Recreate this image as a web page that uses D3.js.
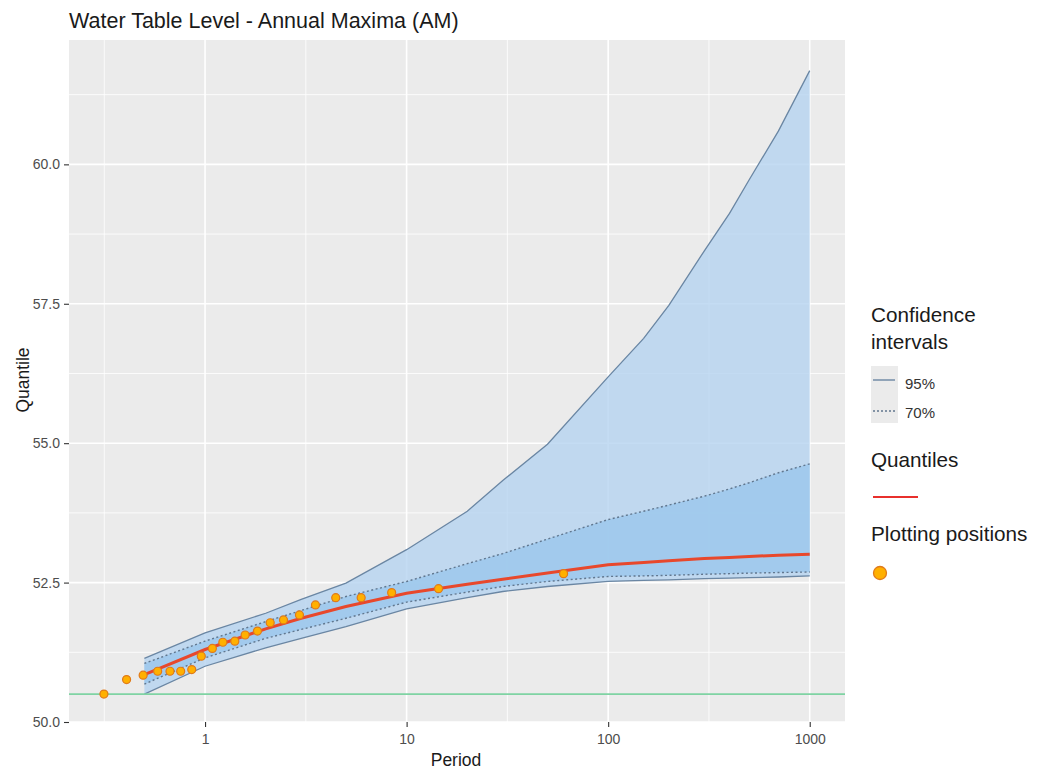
<!DOCTYPE html>
<html>
<head>
<meta charset="utf-8">
<script src="https://cdn.jsdelivr.net/npm/d3@7"></script>
<style>
    body { margin: 0; background: #fff; }
    text { font-family: "Liberation Sans", Arial, sans-serif; }
</style>
</head>
<body>
<div id="chart"></div>
<script>
// return periods of the fitted curve
var periods = [0.5, 1, 2, 3, 5, 10, 20, 30, 50, 100, 150, 200, 300, 400, 500, 700, 1000];
var upper95 = [51.14, 51.6, 51.95, 52.2, 52.49, 53.09, 53.78, 54.33, 54.98, 56.19, 56.88, 57.47, 58.45, 59.12, 59.72, 60.6, 61.68];
var upper70 = [51.05, 51.45, 51.8, 52.0, 52.25, 52.52, 52.84, 53.02, 53.28, 53.63, 53.78, 53.89, 54.05, 54.18, 54.29, 54.47, 54.63];
var quantiles = [50.85, 51.3, 51.67, 51.86, 52.07, 52.31, 52.47, 52.56, 52.67, 52.82, 52.86, 52.89, 52.93, 52.95, 52.97, 52.99, 53.01];
var lower70 = [50.68, 51.15, 51.5, 51.66, 51.86, 52.15, 52.33, 52.43, 52.52, 52.61, 52.62, 52.63, 52.65, 52.66, 52.67, 52.68, 52.69];
var lower95 = [50.5, 51.0, 51.33, 51.5, 51.71, 52.03, 52.23, 52.34, 52.43, 52.52, 52.54, 52.55, 52.57, 52.58, 52.59, 52.6, 52.62];

// plotting positions
var ppPeriod = [0.315, 0.408, 0.493, 0.582, 0.67, 0.757, 0.859, 0.958, 1.087, 1.225, 1.405, 1.581, 1.82, 2.105, 2.45, 2.94, 3.53, 4.45, 5.95, 8.43, 14.4, 60.1];
var ppValue = [50.5, 50.76, 50.84, 50.91, 50.91, 50.91, 50.94, 51.18, 51.32, 51.43, 51.45, 51.56, 51.63, 51.78, 51.83, 51.92, 52.1, 52.23, 52.23, 52.32, 52.39, 52.66];

var threshold = 50.5;

var xTicks = [1, 10, 100, 1000];
var xMinor = [Math.pow(10, -0.5), Math.pow(10, 0.5), Math.pow(10, 1.5), Math.pow(10, 2.5)];
var yTicks = [50, 52.5, 55, 57.5, 60];
var yMinor = [51.25, 53.75, 56.25, 58.75, 61.25];

var width = 1046, height = 769;
var panel = { left: 69, right: 845, top: 40, bottom: 722 };

var svg = d3.select("#chart").append("svg")
    .attr("width", width)
    .attr("height", height);

var x = d3.scaleLog()
    .domain([Math.pow(10, -0.675), Math.pow(10, 3.175)])
    .range([panel.left, panel.right]);
var y = d3.scaleLinear()
    .domain([50, 62.23])
    .range([panel.bottom, panel.top]);

var curve = periods.map((p, i) => ({
    p: p, u95: upper95[i], u70: upper70[i], q: quantiles[i], l70: lower70[i], l95: lower95[i]
}));
var points = ppPeriod.map((p, i) => ({ p: p, v: ppValue[i] }));

// panel background + grid
svg.append("rect")
    .attr("x", panel.left)
    .attr("y", panel.top)
    .attr("width", panel.right - panel.left)
    .attr("height", panel.bottom - panel.top)
    .attr("fill", "#ebebeb");

var grid = svg.append("g");
grid.selectAll(".ymin").data(yMinor).enter().append("line")
    .attr("x1", panel.left).attr("x2", panel.right)
    .attr("y1", d => y(d)).attr("y2", d => y(d))
    .attr("stroke", "#fff").attr("stroke-width", 0.8);
grid.selectAll(".xmin").data(xMinor).enter().append("line")
    .attr("y1", panel.top).attr("y2", panel.bottom)
    .attr("x1", d => x(d)).attr("x2", d => x(d))
    .attr("stroke", "#fff").attr("stroke-width", 0.8);
grid.selectAll(".ymaj").data(yTicks).enter().append("line")
    .attr("x1", panel.left).attr("x2", panel.right)
    .attr("y1", d => y(d)).attr("y2", d => y(d))
    .attr("stroke", "#fff").attr("stroke-width", 1.6);
grid.selectAll(".xmaj").data(xTicks).enter().append("line")
    .attr("y1", panel.top).attr("y2", panel.bottom)
    .attr("x1", d => x(d)).attr("x2", d => x(d))
    .attr("stroke", "#fff").attr("stroke-width", 1.6);

// ribbons
var area95 = d3.area().x(d => x(d.p)).y0(d => y(d.l95)).y1(d => y(d.u95));
var area70 = d3.area().x(d => x(d.p)).y0(d => y(d.l70)).y1(d => y(d.u70));

svg.append("path").datum(curve)
    .attr("d", area95)
    .attr("fill", "#b5d3f0")
    .attr("opacity", 0.8);
svg.append("path").datum(curve)
    .attr("d", area70)
    .attr("fill", "#9cc8ec")
    .attr("opacity", 0.85);

function edge(key) {
    return d3.line().x(d => x(d.p)).y(d => y(d[key]));
}

["u95", "l95"].forEach(function (k) {
    svg.append("path").datum(curve)
        .attr("d", edge(k))
        .attr("fill", "none")
        .attr("stroke", "#6a86a3")
        .attr("stroke-width", 1.3);
});
["u70", "l70"].forEach(function (k) {
    svg.append("path").datum(curve)
        .attr("d", edge(k))
        .attr("fill", "none")
        .attr("stroke", "#61778f")
        .attr("stroke-width", 1.4)
        .attr("stroke-dasharray", "2,2.5");
});

// threshold line
svg.append("line")
    .attr("x1", panel.left).attr("x2", panel.right)
    .attr("y1", y(threshold)).attr("y2", y(threshold))
    .attr("stroke", "#7fd3a3")
    .attr("stroke-width", 1.6);

// quantile curve
svg.append("path").datum(curve)
    .attr("d", edge("q"))
    .attr("fill", "none")
    .attr("stroke", "#e8482c")
    .attr("stroke-width", 3);

// plotting positions
svg.selectAll(".pp").data(points).enter().append("circle")
    .attr("cx", d => x(d.p))
    .attr("cy", d => y(d.v))
    .attr("r", 4)
    .attr("fill", "#ffb000")
    .attr("stroke", "#e07a1a")
    .attr("stroke-width", 1.2);

// axes
var xAxis = svg.append("g")
    .attr("transform", "translate(0," + panel.bottom + ")")
    .call(d3.axisBottom(x).tickValues(xTicks).tickFormat(d3.format("d")).tickSize(5).tickPadding(7));
var yAxis = svg.append("g")
    .attr("transform", "translate(" + panel.left + ",0)")
    .call(d3.axisLeft(y).tickValues(yTicks).tickFormat(d3.format(".1f")).tickSize(5).tickPadding(4));

[xAxis, yAxis].forEach(function (a) {
    a.select(".domain").remove();
    a.selectAll(".tick line").attr("stroke", "#333").attr("stroke-width", 1.1);
    a.selectAll(".tick text")
        .attr("fill", "#4d4d4d")
        .style("font-size", "14px")
        .style("font-family", "Liberation Sans, Arial, sans-serif");
});

// titles
svg.append("text")
    .attr("x", panel.left)
    .attr("y", 28)
    .attr("fill", "#1a1a1a")
    .style("font-size", "21.5px")
    .text("Water Table Level - Annual Maxima (AM)");

svg.append("text")
    .attr("x", 456)
    .attr("y", 766)
    .attr("text-anchor", "middle")
    .attr("fill", "#1a1a1a")
    .style("font-size", "17.5px")
    .text("Period");

svg.append("text")
    .attr("transform", "translate(29,380) rotate(-90)")
    .attr("text-anchor", "middle")
    .attr("fill", "#1a1a1a")
    .style("font-size", "17.5px")
    .text("Quantile");

// legend
var legend = svg.append("g");
legend.append("text").attr("x", 871).attr("y", 322)
    .style("font-size", "20.7px").attr("fill", "#1a1a1a").text("Confidence");
legend.append("text").attr("x", 871).attr("y", 349)
    .style("font-size", "20.7px").attr("fill", "#1a1a1a").text("intervals");

legend.append("rect")
    .attr("x", 871).attr("y", 366)
    .attr("width", 27).attr("height", 57)
    .attr("fill", "#ebebeb");
legend.append("line")
    .attr("x1", 873).attr("x2", 895).attr("y1", 380).attr("y2", 380)
    .attr("stroke", "#6a86a3").attr("stroke-width", 1.4);
legend.append("line")
    .attr("x1", 873).attr("x2", 895).attr("y1", 411).attr("y2", 411)
    .attr("stroke", "#61778f").attr("stroke-width", 1.4)
    .attr("stroke-dasharray", "2,2");
legend.append("text").attr("x", 905).attr("y", 389)
    .style("font-size", "15px").attr("fill", "#333").text("95%");
legend.append("text").attr("x", 905).attr("y", 418)
    .style("font-size", "15px").attr("fill", "#333").text("70%");

legend.append("text").attr("x", 871).attr("y", 467)
    .style("font-size", "20.7px").attr("fill", "#1a1a1a").text("Quantiles");
legend.append("line")
    .attr("x1", 873).attr("x2", 918).attr("y1", 497).attr("y2", 497)
    .attr("stroke", "#e8302c").attr("stroke-width", 2.2);

legend.append("text").attr("x", 871).attr("y", 541)
    .style("font-size", "20.7px").attr("fill", "#1a1a1a").text("Plotting positions");
legend.append("circle")
    .attr("cx", 880).attr("cy", 573).attr("r", 6.5)
    .attr("fill", "#ffb000")
    .attr("stroke", "#e07a1a")
    .attr("stroke-width", 1.3);
</script>
</body>
</html>
